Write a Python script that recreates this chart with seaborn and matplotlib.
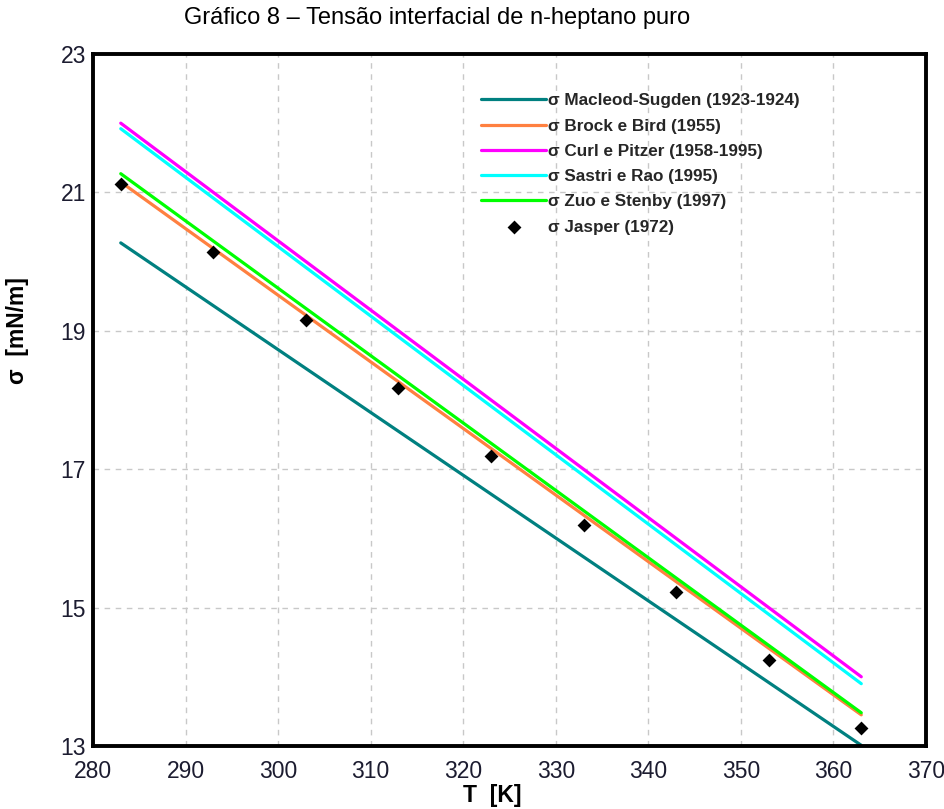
import matplotlib
matplotlib.use("Agg")
import matplotlib.pyplot as plt
import seaborn as sns
import pandas as pd

T_range = [283, 363]
macleod = [20.27, 13.01]
brock = [21.15, 13.45]
curl = [22.00, 14.00]
sastri = [21.92, 13.90]
zuo = [21.27, 13.48]

T_jasper = [283, 293, 303, 313, 323, 333, 343, 353, 363]
jasper = [21.12, 20.14, 19.16, 18.17, 17.19, 16.20, 15.23, 14.24, 13.26]

labels = ["σ Macleod-Sugden (1923-1924)", "σ Brock e Bird (1955)",
          "σ Curl e Pitzer (1958-1995)", "σ Sastri e Rao (1995)",
          "σ Zuo e Stenby (1997)", "σ Jasper (1972)"]
colors = ["#008080", "#ff8040", "#ff00ff", "#00ffff", "#00ff00"]

sns.set_theme(style="white")
plt.rcParams['font.family'] = ['Liberation Sans', 'DejaVu Sans']

fig = plt.figure(figsize=(9.44, 8.09), dpi=100)
ax = fig.add_axes([0.0985, 0.0779, 0.8825, 0.8554])

for vals, lab, col in zip([macleod, brock, curl, sastri, zuo], labels[:5], colors):
    df = pd.DataFrame({"T": T_range, "s": vals})
    sns.lineplot(data=df, x="T", y="s", ax=ax, color=col, linewidth=2.3, label=lab)

dj = pd.DataFrame({"T": T_jasper, "s": jasper})
sns.scatterplot(data=dj, x="T", y="s", ax=ax, color="black", marker="D", s=50,
                edgecolor="black", linewidth=0, label=labels[5], zorder=5)

ax.set_xlim(280, 370)
ax.set_ylim(13, 23)
ax.set_xticks(range(280, 371, 10))
ax.set_yticks([13, 15, 17, 19, 21, 23])
ax.grid(True, linestyle=(0, (4, 4)), color="#c8c8c8", linewidth=1.0)
for s in ax.spines.values():
    s.set_color("black")
    s.set_linewidth(2.8)
ax.tick_params(axis="both", length=0, labelsize=16.5, colors="#1c1c30")
ax.tick_params(axis="y", pad=5)
ax.tick_params(axis="x", pad=10)

ax.set_xlabel("T  [K]", fontsize=16.5, fontweight="bold", color="black")
ax.set_ylabel("σ  [mN/m]", fontsize=16.5, fontweight="bold", color="black")
ax.xaxis.set_label_coords(0.479, -0.055)
ax.yaxis.set_label_coords(-0.077, 0.60)

leg = ax.legend(loc="upper left", bbox_to_anchor=(0.466, 0.943), frameon=False,
                fontsize=12.3, handlelength=3.8, handletextpad=0.1,
                labelspacing=0.6, borderaxespad=0, borderpad=0)
for t in leg.get_texts():
    t.set_fontweight("bold")

fig.text(0.463, 0.978, "Gráfico 8 – Tensão interfacial de n-heptano puro",
         ha="center", va="center", fontsize=17, color="black")

fig.savefig("out.png", dpi=100)
